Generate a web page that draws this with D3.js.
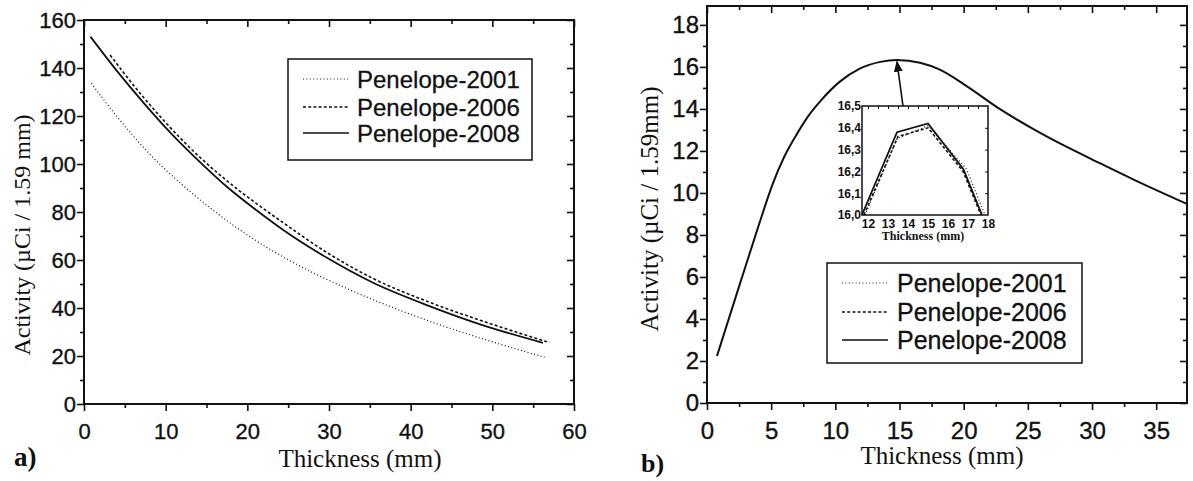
<!DOCTYPE html>
<html>
<head>
<meta charset="utf-8">
<script src="https://cdn.jsdelivr.net/npm/d3@7"></script>
<style>
  body { margin: 0; background: #fff; }
  svg { display: block; }
  .tick text { font-family: "Liberation Sans", Arial, sans-serif; fill: #111; stroke: #111; stroke-width: 0.35px; }
  .tick line, .domain { stroke: #111; }
</style>
</head>
<body>
<svg id="chart" width="1193" height="481"></svg>
<script>
// values
const seriesNames = ["Penelope-2001", "Penelope-2006", "Penelope-2008"];

// panel a)
const a2001Thick = [0.9, 4.1, 7.8, 11.8, 16.1, 19.1, 25.6, 32.6, 39.1, 42.3, 48.5, 56.4];
const a2001Act   = [133.6, 119.5, 105, 92, 80, 72.5, 59, 47.5, 38.5, 34.5, 27.5, 19.5];
const a2006Thick = [3.2, 6.5, 9.8, 13.5, 17.5, 21.6, 24.4, 29.7, 35.4, 42.3, 48.5, 57.0];
const a2006Act   = [145.4, 131, 118, 105, 93, 82.3, 75.5, 63.2, 52.3, 42.4, 34.9, 25.6];
const a2008Thick = [0.8, 4.1, 7.3, 10.6, 14.3, 17.5, 21.2, 24.4, 29.7, 35.4, 42.3, 48.5, 56.2];
const a2008Act   = [153, 138.5, 125.5, 113, 100.5, 90.5, 80.5, 72.5, 61, 50.5, 40.8, 33.2, 25.5];

// panel b) main curve (the three versions overlap at this scale)
const bThick = [0.78, 2.5, 4.0, 5.1, 6.0, 7.0, 8.0, 8.8, 10.35, 11.9, 13.5, 14.8, 16.6, 18.1, 20.2, 22.8, 25.4, 28.0, 30.6, 33.2, 37.4];
const bAct   = [2.24, 5.55, 8.4, 10.4, 11.7, 12.8, 13.75, 14.35, 15.3, 15.92, 16.24, 16.33, 16.2, 15.88, 15.1, 14.0, 13.05, 12.2, 11.42, 10.65, 9.48];

// panel b) inset around the maximum
const in2001Thick = [11.85, 13.45, 15.0, 16.93, 17.85];
const in2001Act   = [16.0, 16.35, 16.41, 16.21, 16.0];
const in2006Thick = [11.8, 13.5, 15.0, 16.75, 17.65];
const in2006Act   = [16.0, 16.36, 16.40, 16.2, 16.0];
const in2008Thick = [11.7, 11.95, 13.45, 15.0, 16.77, 17.7];
const in2008Act   = [16.0, 16.055, 16.38, 16.42, 16.21, 16.0];

// arrow from inset to the peak (thickness, activity)
const arrowFrom = [15.28, 14.1];
const arrowTo   = [14.8, 16.25];

const lineStyles = [
    { dash: "1,2.4", width: 1.2 },
    { dash: "3,2.2", width: 1.6 },
    { dash: null, width: 1.8 }
];

const svg = d3.select("#chart");
const zip = (xs, ys) => xs.map((x, i) => [x, ys[i]]);

svg.append("defs").append("marker")
    .attr("id", "arrowhead")
    .attr("viewBox", "0 0 10 10")
    .attr("refX", 9).attr("refY", 5)
    .attr("markerWidth", 7).attr("markerHeight", 7)
    .attr("orient", "auto")
    .append("path")
    .attr("d", "M0,1 L10,5 L0,9 Z")
    .attr("fill", "#111");

function drawFrame(g, x, y, o) {
    const [x0, x1] = x.range();
    const [y0, y1] = y.range();

    // outward ticks bottom / left
    g.append("g").attr("transform", `translate(0,${y0})`)
        .call(d3.axisBottom(x).tickValues(o.xMinor).tickSize(o.minor).tickSizeOuter(0).tickFormat(""));
    g.append("g").attr("transform", `translate(0,${y0})`)
        .call(d3.axisBottom(x).tickValues(o.xMajor).tickSize(o.major).tickSizeOuter(0)
            .tickPadding(o.xPad).tickFormat(d3.format("d")))
        .selectAll("text").style("font-size", o.font + "px");
    g.append("g").attr("transform", `translate(${x0},0)`)
        .call(d3.axisLeft(y).tickValues(o.yMinor).tickSize(o.minor).tickSizeOuter(0).tickFormat(""));
    g.append("g").attr("transform", `translate(${x0},0)`)
        .call(d3.axisLeft(y).tickValues(o.yMajor).tickSize(o.major).tickSizeOuter(0)
            .tickPadding(o.yPad).tickFormat(d3.format("d")))
        .selectAll("text").style("font-size", o.font + "px");

    // inward mirror ticks top / right
    g.append("g").attr("transform", `translate(0,${y1})`)
        .call(d3.axisBottom(x).tickValues(o.xMinor).tickSize(o.minor).tickSizeOuter(0).tickFormat(""));
    g.append("g").attr("transform", `translate(0,${y1})`)
        .call(d3.axisBottom(x).tickValues(o.xMajor).tickSize(o.major).tickSizeOuter(0).tickFormat(""));
    g.append("g").attr("transform", `translate(${x1},0)`)
        .call(d3.axisLeft(y).tickValues(o.yMinor).tickSize(o.minor).tickSizeOuter(0).tickFormat(""));
    g.append("g").attr("transform", `translate(${x1},0)`)
        .call(d3.axisLeft(y).tickValues(o.yMajor).tickSize(o.major).tickSizeOuter(0).tickFormat(""));

    g.selectAll(".domain").remove();
    g.selectAll(".tick line").attr("stroke-width", o.tickW);

    g.append("rect")
        .attr("x", x0).attr("y", y1)
        .attr("width", x1 - x0).attr("height", y0 - y1)
        .attr("fill", "none").attr("stroke", "#111").attr("stroke-width", o.frameW);
}

function drawSeries(g, x, y, pts, style, curve) {
    const line = d3.line().x(d => x(d[0])).y(d => y(d[1])).curve(curve || d3.curveMonotoneX);
    g.append("path")
        .datum(pts)
        .attr("d", line)
        .attr("fill", "none")
        .attr("stroke", "#111")
        .attr("stroke-width", style.width)
        .attr("stroke-dasharray", style.dash);
}

function drawLegend(g, left, top, w, h, rowY, x0, x1, xt, font) {
    g.append("rect")
        .attr("x", left).attr("y", top).attr("width", w).attr("height", h)
        .attr("fill", "#fff").attr("stroke", "#111").attr("stroke-width", 1.5);
    seriesNames.forEach((name, i) => {
        g.append("line")
            .attr("x1", x0).attr("x2", x1)
            .attr("y1", rowY[i]).attr("y2", rowY[i])
            .attr("stroke", "#111")
            .attr("stroke-width", lineStyles[i].width * 0.8)
            .attr("stroke-dasharray", lineStyles[i].dash);
        g.append("text")
            .attr("x", xt).attr("y", rowY[i])
            .attr("dy", "0.36em")
            .style("font-family", "'Liberation Sans', Arial, sans-serif")
            .style("font-size", font + "px")
            .attr("fill", "#111")
            .attr("stroke", "#111").attr("stroke-width", 0.3)
            .text(name);
    });
}

function serifText(g, txt, x, y, size, opts = {}) {
    const t = g.append("text")
        .attr("x", x).attr("y", y)
        .attr("text-anchor", opts.anchor || "middle")
        .style("font-family", "'Liberation Serif', 'Times New Roman', serif")
        .style("font-size", size + "px")
        .style("font-weight", opts.bold ? "bold" : "normal")
        .attr("fill", "#111")
        .text(txt);
    if (opts.rotate) t.attr("transform", `rotate(-90,${x},${y})`);
    return t;
}

// ---------- panel a ----------
const ga = svg.append("g");
const xa = d3.scaleLinear().domain([0, 60]).range([84, 574]);
const ya = d3.scaleLinear().domain([0, 160]).range([404, 20]);

drawFrame(ga, xa, ya, {
    xMajor: d3.range(0, 61, 10), xMinor: d3.range(5, 60, 10),
    yMajor: d3.range(0, 161, 20), yMinor: d3.range(10, 160, 20),
    major: 7, minor: 4, xPad: 12, yPad: 1, font: 22, tickW: 1.6, frameW: 2
});

[zip(a2001Thick, a2001Act), zip(a2006Thick, a2006Act), zip(a2008Thick, a2008Act)]
    .forEach((pts, i) => drawSeries(ga, xa, ya, pts, lineStyles[i]));

drawLegend(ga, 288, 59, 244, 101, [79, 107, 133], 303, 349, 357, 24);

serifText(ga, "Thickness (mm)", 360, 467, 25);
serifText(ga, "Activity (\u00b5Ci / 1.59 mm)", 30, 235, 24, { rotate: true });
serifText(ga, "a)", 14, 466, 27, { bold: true, anchor: "start" });

// ---------- panel b ----------
const gb = svg.append("g");
const xb = d3.scaleLinear().domain([0, 37.4]).range([707, 1187]);
const yb = d3.scaleLinear().domain([0, 18.9]).range([403, 6]);

drawFrame(gb, xb, yb, {
    xMajor: d3.range(0, 36, 5), xMinor: d3.range(2.5, 37.4, 5),
    yMajor: d3.range(0, 19, 2), yMinor: d3.range(1, 19, 2),
    major: 7, minor: 4, xPad: 12, yPad: 1, font: 24, tickW: 1.6, frameW: 2
});

drawSeries(gb, xb, yb, zip(bThick, bAct), { dash: null, width: 2 });

gb.append("line")
    .attr("x1", xb(arrowFrom[0])).attr("y1", yb(arrowFrom[1]))
    .attr("x2", xb(arrowTo[0])).attr("y2", yb(arrowTo[1]))
    .attr("stroke", "#111").attr("stroke-width", 1.6)
    .attr("marker-end", "url(#arrowhead)");

// inset
const gi = gb.append("g");
const xi = d3.scaleLinear().domain([11.7, 18]).range([862, 988]);
const yi = d3.scaleLinear().domain([16.0, 16.5]).range([215, 106]);
gi.append("rect").attr("x", 862).attr("y", 106).attr("width", 126).attr("height", 109).attr("fill", "#fff");

const commaFmt = d => d3.format(".1f")(d).replace(".", ",");
gi.append("g").attr("transform", "translate(862,0)")
    .call(d3.axisLeft(yi).tickValues(d3.range(16.0, 16.51, 0.1)).tickSize(0).tickPadding(1).tickFormat(commaFmt))
    .selectAll("text").style("font-size", "12px").style("font-weight", "bold").style("stroke-width", "0");
gi.append("g").attr("transform", "translate(0,215)")
    .call(d3.axisBottom(xi).tickValues(d3.range(12, 19, 1)).tickSize(0).tickPadding(4).tickFormat(d3.format("d")))
    .selectAll("text").style("font-size", "12px").style("font-weight", "bold").style("stroke-width", "0");
gi.append("g").attr("transform", "translate(0,106)")
    .call(d3.axisBottom(xi).tickValues(d3.range(12, 18, 0.5)).tickSize(3).tickFormat(""));
gi.append("g").attr("transform", "translate(988,0)")
    .call(d3.axisLeft(yi).tickValues(d3.range(16.1, 16.5, 0.1)).tickSize(3).tickFormat(""));
gi.selectAll(".domain").remove();
gi.selectAll(".tick line").attr("stroke-width", 1);

[zip(in2001Thick, in2001Act), zip(in2006Thick, in2006Act), zip(in2008Thick, in2008Act)]
    .forEach((pts, i) => drawSeries(gi, xi, yi, pts, lineStyles[i], d3.curveLinear));

gi.append("rect").attr("x", 862).attr("y", 106).attr("width", 126).attr("height", 109)
    .attr("fill", "none").attr("stroke", "#111").attr("stroke-width", 1.5);
serifText(gi, "Thickness (mm)", 923, 240, 12, { bold: true });

drawLegend(gb, 827, 263, 255, 100, [283, 312, 340], 842, 888, 897, 25);

serifText(gb, "Thickness (mm)", 942, 464, 25);
serifText(gb, "Activity (\u00b5Ci / 1.59mm)", 658, 209, 25, { rotate: true });
serifText(gb, "b)", 641, 472, 26, { bold: true, anchor: "start" });
</script>
</body>
</html>
